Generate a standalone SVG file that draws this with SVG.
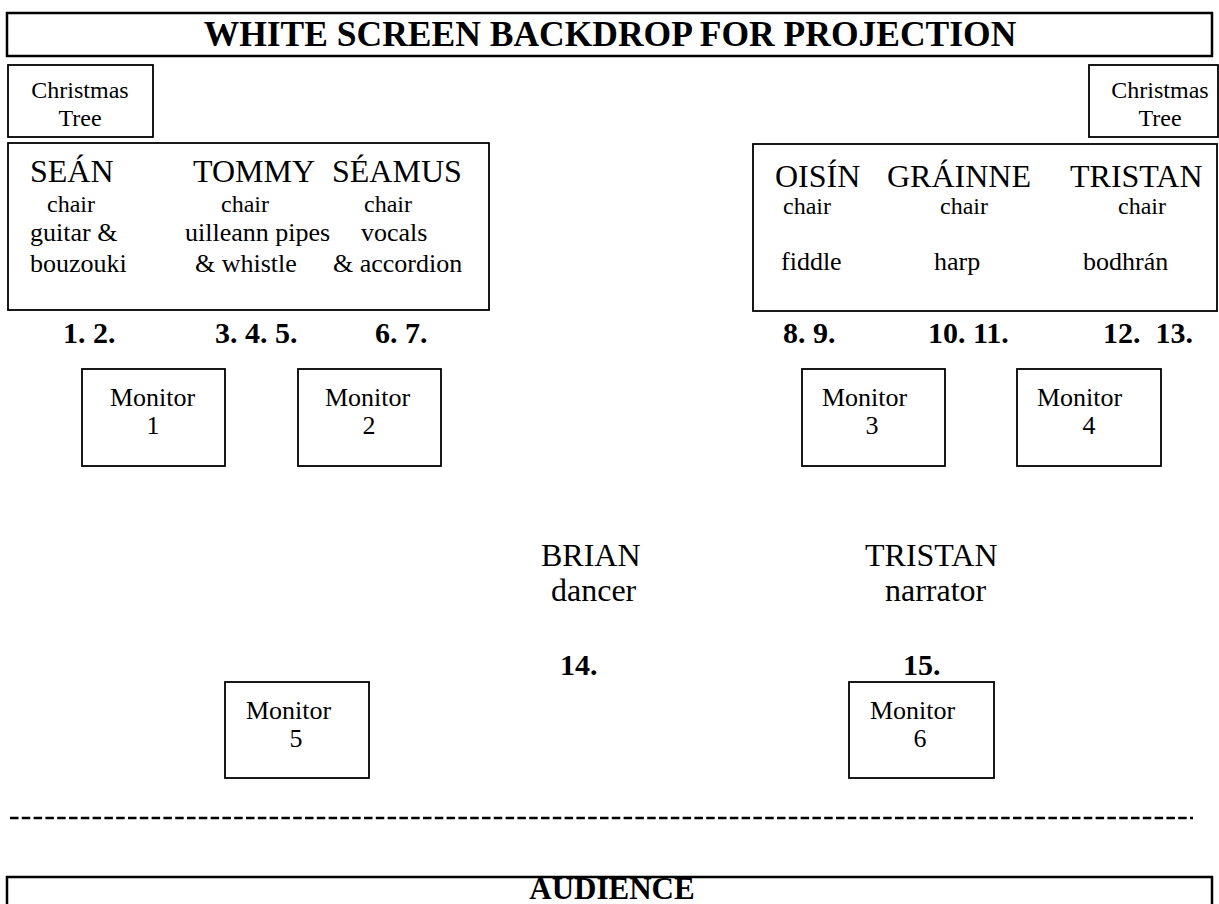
<svg xmlns="http://www.w3.org/2000/svg" width="1219" height="904" viewBox="0 0 1219 904">
<style>
text{font-family:"Liberation Serif","Times New Roman",serif;fill:#000}
.box{fill:#fff;stroke:#000;stroke-width:1.8}
.thick{fill:#fff;stroke:#000;stroke-width:2.5}
.title{font-size:35.5px;font-weight:bold}
.name{font-size:32px}
.small{font-size:24px}
.inst{font-size:26px}
.mon{font-size:26px}
.num{font-size:30px;font-weight:bold}
.mid{text-anchor:middle}
</style>
<rect width="1219" height="904" fill="#fff"/>
<g id="screen">
<rect class="thick" x="7" y="13" width="1205" height="43"/>
<text class="title mid" x="610" y="46">WHITE SCREEN BACKDROP FOR PROJECTION</text>
</g>
<g id="tree-left">
<rect class="box" x="8" y="65" width="145" height="72"/>
<text class="small mid" x="80" y="98">Christmas</text>
<text class="small mid" x="80" y="126">Tree</text>
</g>
<g id="tree-right">
<rect class="box" x="1089" y="65" width="129" height="72"/>
<text class="small mid" x="1160" y="98">Christmas</text>
<text class="small mid" x="1160" y="126">Tree</text>
</g>
<g id="group-left">
<rect class="box" x="8" y="143" width="481" height="167"/>
<text class="name" x="30" y="182">SEÁN</text>
<text class="name" x="193" y="182">TOMMY</text>
<text class="name" x="332" y="182">SÉAMUS</text>
<text class="small" x="47" y="212">chair</text>
<text class="small" x="221" y="212">chair</text>
<text class="small" x="364" y="212">chair</text>
<text class="inst" x="30" y="241">guitar &amp;</text>
<text class="inst" x="185" y="241">uilleann pipes</text>
<text class="inst" x="361" y="241">vocals</text>
<text class="inst" x="30" y="272">bouzouki</text>
<text class="inst" x="195" y="272">&amp; whistle</text>
<text class="inst" x="333" y="272">&amp; accordion</text>
</g>
<g id="group-right">
<rect class="box" x="753" y="144" width="464" height="167"/>
<text class="name" x="775" y="187">OISÍN</text>
<text class="name" x="887" y="187">GRÁINNE</text>
<text class="name" x="1070" y="187">TRISTAN</text>
<text class="small" x="783" y="214">chair</text>
<text class="small" x="940" y="214">chair</text>
<text class="small" x="1118" y="214">chair</text>
<text class="inst" x="781" y="270">fiddle</text>
<text class="inst" x="934" y="270">harp</text>
<text class="inst" x="1083" y="270">bodhrán</text>
</g>
<g id="numbers">
<text class="num" x="63" y="343">1. 2.</text>
<text class="num" x="215" y="343">3. 4. 5.</text>
<text class="num" x="375" y="343">6. 7.</text>
<text class="num" x="783" y="343">8. 9.</text>
<text class="num" x="928" y="343">10. 11.</text>
<text class="num" x="1103" y="343" xml:space="preserve">12.  13.</text>
</g>
<g id="monitor-1">
<rect class="box" x="82" y="369" width="143" height="97"/>
<text class="mon" x="110" y="406">Monitor</text>
<text class="mon mid" x="153" y="434">1</text>
</g>
<g id="monitor-2">
<rect class="box" x="298" y="369" width="143" height="97"/>
<text class="mon" x="325" y="406">Monitor</text>
<text class="mon mid" x="369" y="434">2</text>
</g>
<g id="monitor-3">
<rect class="box" x="802" y="369" width="143" height="97"/>
<text class="mon" x="822" y="406">Monitor</text>
<text class="mon mid" x="872" y="434">3</text>
</g>
<g id="monitor-4">
<rect class="box" x="1017" y="369" width="144" height="97"/>
<text class="mon" x="1037" y="406">Monitor</text>
<text class="mon mid" x="1089" y="434">4</text>
</g>
<g id="brian">
<text class="name" x="541" y="566">BRIAN</text>
<text class="name" x="551" y="601">dancer</text>
<text class="num" x="560" y="675">14.</text>
</g>
<g id="tristan-narrator">
<text class="name" x="865" y="566">TRISTAN</text>
<text class="name" x="885" y="601">narrator</text>
<text class="num" x="903" y="675">15.</text>
</g>
<g id="monitor-5">
<rect class="box" x="225" y="682" width="144" height="96"/>
<text class="mon" x="246" y="719">Monitor</text>
<text class="mon mid" x="296" y="747">5</text>
</g>
<g id="monitor-6">
<rect class="box" x="849" y="682" width="145" height="96"/>
<text class="mon" x="870" y="719">Monitor</text>
<text class="mon mid" x="920" y="747">6</text>
</g>
<g id="connectors">
<line x1="10" y1="818" x2="1193" y2="818" stroke="#000" stroke-width="2.6" stroke-dasharray="8.5 3.3"/>
</g>
<g id="audience">
<rect class="thick" x="7" y="877" width="1205" height="40" stroke-width="3"/>
<text class="mid" x="612" y="899" style="font-size:31px;font-weight:bold">AUDIENCE</text>
</g>
</svg>
